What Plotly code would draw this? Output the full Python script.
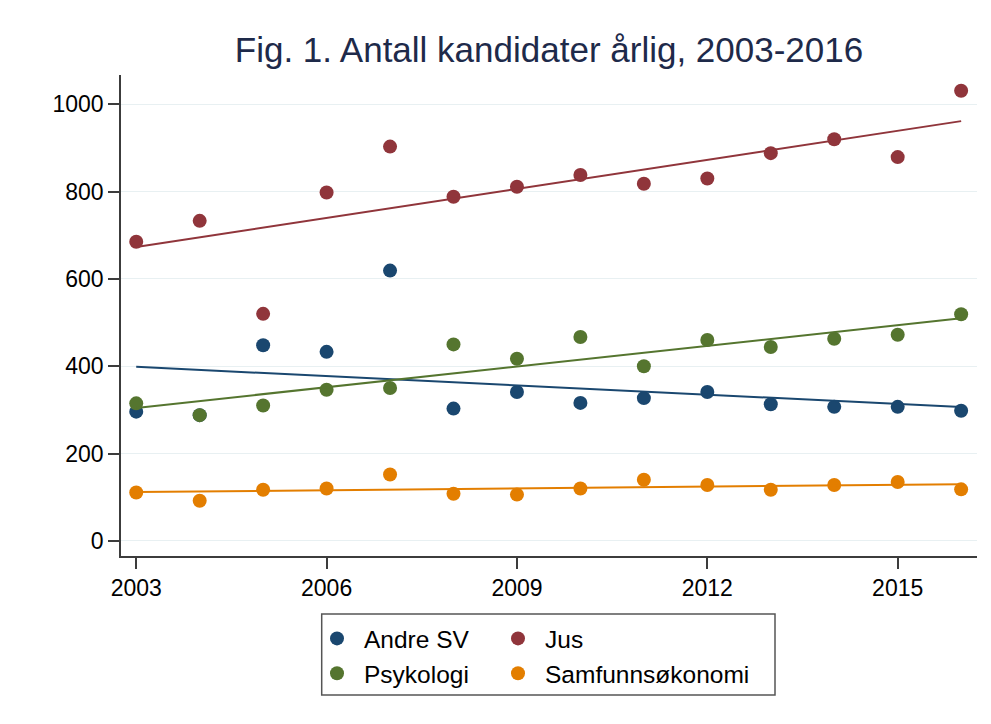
import numpy as np
import plotly.graph_objects as go

years = list(range(2003, 2017))
andre_sv = [296, 288, 448, 433, 619, 303, 341, 316, 327, 341, 313, 307, 307, 298]
jus = [685, 733, 520, 798, 903, 788, 811, 838, 818, 830, 888, 920, 879, 1031]
psykologi = [315, 288, 310, 346, 350, 450, 417, 467, 400, 460, 444, 463, 472, 519]
samfunnsokonomi = [111, 92, 117, 120, 152, 108, 106, 120, 140, 128, 117, 128, 135, 118]

series_names = ["Andre SV", "Jus", "Psykologi", "Samfunnsøkonomi"]
series_values = [andre_sv, jus, psykologi, samfunnsokonomi]
colors = ["#1a476f", "#90353b", "#55752f", "#e37e00"]
legend_ids = ["legend", "legend2", "legend", "legend2"]

y_ticks = [0, 200, 400, 600, 800, 1000]
x_ticks = [2003, 2006, 2009, 2012, 2015]

FONT = "Arial, 'Liberation Sans', Helvetica, sans-serif"

# page body has an 8px margin; figure sized so the plot lands where the reference has it
OFF = 8
W, H = 991 - OFF, 724 - OFF
ML, MR, MT, MB = 121 - OFF, 14, 75 - OFF, 168
PW = W - ML - MR
PH = H - MT - MB


def px_x(p):
    return (p - OFF - ML) / PW


def px_y(p):
    return (H - MB - (p - OFF)) / PH


fig = go.Figure()

for name, vals, col, lg in zip(series_names, series_values, colors, legend_ids):
    fig.add_trace(go.Scatter(
        x=years, y=vals, mode="markers", name=name,
        marker=dict(color=col, size=14, line=dict(width=0)),
        legend=lg, showlegend=True,
    ))

for name, vals, col in zip(series_names, series_values, colors):
    slope, intercept = np.polyfit(years, vals, 1)
    xs = [years[0], years[-1]]
    ys = [slope * x + intercept for x in xs]
    fig.add_trace(go.Scatter(
        x=xs, y=ys, mode="lines", line=dict(color=col, width=2),
        showlegend=False, hoverinfo="skip",
    ))

axis_common = dict(
    showline=True, linecolor="#3c3c3c", linewidth=1.5,
    ticks="outside", ticklen=11, tickwidth=1.5, tickcolor="#3c3c3c",
    tickfont=dict(family=FONT, size=23, color="#000000"),
    zeroline=False,
)

legend_common = dict(
    xanchor="left", y=px_y(616), yanchor="top",
    orientation="v", bgcolor="rgba(0,0,0,0)", borderwidth=0,
    font=dict(family=FONT, size=24.5, color="#000000"),
    itemwidth=44, tracegroupgap=2,
)

fig.update_layout(
    width=W, height=H,
    margin=dict(l=ML, r=MR, t=MT, b=MB),
    paper_bgcolor="#ffffff", plot_bgcolor="#ffffff",
    title=dict(
        text="Fig. 1. Antall kandidater årlig, 2003-2016",
        font=dict(family=FONT, size=35, color="#1e2a4a"),
        x=0.5, xref="paper", xanchor="center",
        y=1 - (50 - OFF) / H, yref="container", yanchor="middle",
    ),
    xaxis=dict(
        range=[2002.76, 2016.25], tickvals=x_ticks,
        showgrid=False, **axis_common,
    ),
    yaxis=dict(
        range=[-34.6, 1067], tickvals=y_ticks,
        showgrid=True, gridcolor="#e8f0f2", gridwidth=1,
        **axis_common,
    ),
    legend=dict(x=px_x(310), **legend_common),
    legend2=dict(x=px_x(491), **legend_common),
    shapes=[
        dict(type="rect", xref="paper", yref="paper",
             x0=px_x(321.7), x1=px_x(775),
             y0=px_y(695), y1=px_y(614),
             line=dict(color="#555555", width=1.5), fillcolor="rgba(0,0,0,0)"),
        dict(type="line", xref="paper", yref="paper",
             x0=px_x(6), x1=px_x(995), y0=px_y(5), y1=px_y(5),
             line=dict(color="#edf3f5", width=2)),
        dict(type="line", xref="paper", yref="paper",
             x0=px_x(6.5), x1=px_x(6.5), y0=px_y(5), y1=px_y(730),
             line=dict(color="#edf3f5", width=2)),
    ],
)

fig.write_html("out.html")
